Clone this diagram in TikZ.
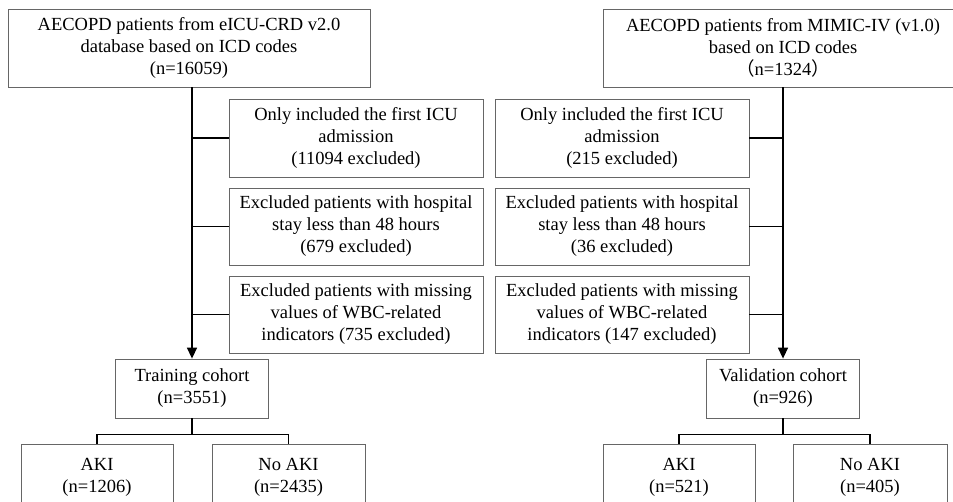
\documentclass[tikz,border=0pt]{standalone}
\usepackage{fontspec}
\setmainfont{Liberation Serif}
\newfontfamily\cjk{Noto Sans CJK SC}
\usetikzlibrary{arrows.meta}
\begin{document}
\begin{tikzpicture}[x=1pt,y=-1pt,
  box/.style={draw=gray!80!black,line width=0.8pt,align=center,inner sep=0pt,
    font=\fontsize{18.5}{22}\selectfont},
  conn/.style={draw=black,line width=1.4pt},
  arr/.style={conn,-{Triangle[width=10pt,length=11pt]}}]
\useasboundingbox (0,0) rectangle (953,502);
\clip (0,0) rectangle (953,502);
% top boxes
\node[box,minimum width=362pt,minimum height=78pt] (topL) at (189,48)
  {AECOPD patients from eICU-CRD v2.0\\database based on ICD codes\\(n=16059)};
\node[box,minimum width=360pt,minimum height=78pt] (topR) at (783,48)
  {AECOPD patients from MIMIC-IV (v1.0)\\based on ICD codes\\{\cjk （}n=1324{\cjk ）}};
% exclusion boxes left
\node[box,minimum width=254pt,minimum height=78pt] (exL1) at (356,138)
  {Only included the first ICU\\admission\\(11094 excluded)};
\node[box,minimum width=254pt,minimum height=77pt] (exL2) at (356,226.5)
  {Excluded patients with hospital\\stay less than 48 hours\\(679 excluded)};
\node[box,minimum width=254pt,minimum height=77pt] (exL3) at (356,314.5)
  {Excluded patients with missing\\values of WBC-related\\indicators (735 excluded)};
% exclusion boxes right
\node[box,minimum width=254pt,minimum height=78pt] (exR1) at (622,138)
  {Only included the first ICU\\admission\\(215 excluded)};
\node[box,minimum width=254pt,minimum height=77pt] (exR2) at (622,226.5)
  {Excluded patients with hospital\\stay less than 48 hours\\(36 excluded)};
\node[box,minimum width=254pt,minimum height=77pt] (exR3) at (622,314.5)
  {Excluded patients with missing\\values of WBC-related\\indicators (147 excluded)};
% cohorts
\node[box,minimum width=153pt,minimum height=59pt] (train) at (192,388.5)
  {Training cohort\\(n=3551)};
\node[box,minimum width=153pt,minimum height=59pt] (valid) at (783,388.5)
  {Validation cohort\\(n=926)};
% outcome boxes
\node[box,minimum width=152pt,minimum height=66pt] (akiL) at (97,477)
  {AKI\\(n=1206)};
\node[box,minimum width=153pt,minimum height=66pt] (noakiL) at (288.5,477)
  {No AKI\\(n=2435)};
\node[box,minimum width=152pt,minimum height=66pt] (akiR) at (679,477)
  {AKI\\(n=521)};
\node[box,minimum width=154pt,minimum height=66pt] (noakiR) at (870,477)
  {No AKI\\(n=405)};
% connectors left
\draw[arr] (topL.south -| train.north) -- (train.north);
\draw[conn] (exL1.west) -- (exL1.west -| train.north);
\draw[conn] (exL2.west) -- (exL2.west -| train.north);
\draw[conn] (exL3.west) -- (exL3.west -| train.north);
\draw[conn] (train.south) -- ++(0,16) -| (akiL.north);
\draw[conn] (train.south) -- ++(0,16) -| (noakiL.north);
% connectors right
\draw[arr] (topR.south) -- (valid.north);
\draw[conn] (exR1.east) -- (exR1.east -| valid.north);
\draw[conn] (exR2.east) -- (exR2.east -| valid.north);
\draw[conn] (exR3.east) -- (exR3.east -| valid.north);
\draw[conn] (valid.south) -- ++(0,16) -| (akiR.north);
\draw[conn] (valid.south) -- ++(0,16) -| (noakiR.north);
\end{tikzpicture}
\end{document}
